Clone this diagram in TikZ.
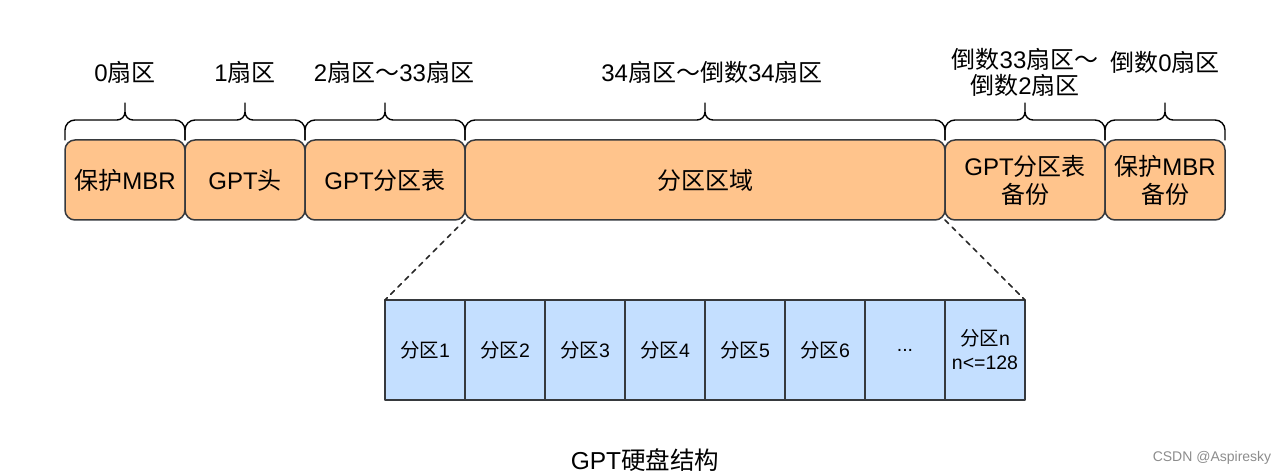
\documentclass[tikz,border=0pt]{standalone}
\usepackage{fontspec}
\setmainfont{Liberation Sans}
\newfontfamily\zh{Noto Sans CJK SC}
\usetikzlibrary{positioning}
\usetikzlibrary{calc}

\definecolor{segfill}{HTML}{FFC48C}
\definecolor{partfill}{HTML}{C4DFFF}
\definecolor{edge}{HTML}{36393D}

\begin{document}
\begin{tikzpicture}[x=1pt,y=1pt,line cap=round,line join=round,
  seg/.style={draw=edge,line width=1.5pt,fill=segfill,rounded corners=10pt,minimum height=80pt,inner sep=0pt,outer sep=0pt,align=center,font=\fontsize{24}{28}\selectfont},
  part/.style={draw=edge,line width=1.5pt,fill=partfill,minimum width=80pt,minimum height=100pt,inner sep=0pt,outer sep=0pt,align=center,font=\fontsize{19.5}{24}\selectfont},
  lbl/.style={align=center,font=\fontsize{24}{26}\selectfont},
  brc/.style={draw=black,line width=1.4pt}]
\useasboundingbox (0,0) rectangle (1288,476);
% sectors of the disk
\node[seg,minimum width=120pt] (mbr) at (125,296) {{\zh 保护}MBR};
\node[seg,minimum width=120pt,right=0pt of mbr] (hdr) {GPT{\zh 头}};
\node[seg,minimum width=160pt,right=0pt of hdr] (tbl) {GPT{\zh 分区表}};
\node[seg,minimum width=480pt,right=0pt of tbl] (area) {{\zh 分区区域}};
\node[seg,minimum width=160pt,right=0pt of area] (tblbak) {GPT{\zh 分区表}\\{\zh 备份}};
\node[seg,minimum width=120pt,right=0pt of tblbak] (mbrbak) {{\zh 保护}MBR\\{\zh 备份}};
% braces
\foreach \s in {mbr,hdr,tbl,area,tblbak,mbrbak}
  \draw[brc] let \p1=(\s.north west), \p2=(\s.north east), \p3=(\s.north) in
    (\x1,\y1) -- (\x1,\y1+10) to[out=90,in=180] (\x1+10,\y1+20) -- (\x3-8,\y1+20)
    to[out=0,in=-90] (\x3,\y1+28) -- (\x3,\y1+37)
    (\x3,\y1+28) to[out=-90,in=180] (\x3+8,\y1+20) -- (\x2-10,\y1+20)
    to[out=0,in=90] (\x2,\y1+10) -- (\x2,\y1);
% sector numbers
\node[lbl] (lmbr) at (mbr.north |- 0,404) {0{\zh 扇区}};
\node[lbl] (lhdr) at (hdr.north |- 0,404) {1{\zh 扇区}};
\node[lbl,xshift=9pt] (ltbl) at (tbl.north |- 0,404) {2{\zh 扇区～}33{\zh 扇区}};
\node[lbl,xshift=7pt] (larea) at (area.north |- 0,404) {34{\zh 扇区～倒数}34{\zh 扇区}};
\node[lbl] (ltblbak) at (tblbak.north |- 0,404) {{\zh 倒数}33{\zh 扇区～}\\{\zh 倒数}2{\zh 扇区}};
\node[lbl] (lmbrbak) at (mbrbak.north |- 0,414) {{\zh 倒数}0{\zh 扇区}};
% partitions
\node[part] (p1) at (425,126) {{\zh 分区}1};
\foreach \i [remember=\i as \j (initially 1)] in {2,...,6}
  \node[part,right=0pt of p\j] (p\i) {{\zh 分区}\i};
\node[part,right=0pt of p6] (p7) {...};
\node[part,right=0pt of p7] (pn) {{\zh 分区}n\\n<=128};
\draw[black!85,line width=1.6pt,dash pattern=on 5pt off 5pt] (area.south west) -- (p1.north west);
\draw[black!85,line width=1.6pt,dash pattern=on 5pt off 5pt] (area.south east) -- (pn.north east);
% caption
\node[font=\fontsize{24.5}{26}\selectfont] (cap) at (645,16) {GPT{\zh 硬盘结构}};
\node[font=\fontsize{14}{16}\selectfont,text=black!45] (mark) at (1212,18) {CSDN @Aspiresky};
\end{tikzpicture}
\end{document}
